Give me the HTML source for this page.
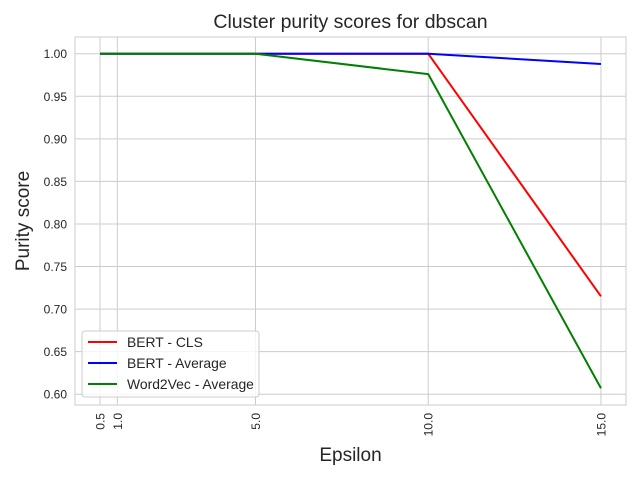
<!DOCTYPE html>
<html><head><meta charset="utf-8"><style>
body{margin:0;background:#fff;}
svg{display:block;font-family:"Liberation Sans","DejaVu Sans",sans-serif;}
</style></head><body>
<svg id="chart" width="640" height="480" viewBox="0 0 640 480" xmlns="http://www.w3.org/2000/svg"></svg>
<script>
const epsilons = [0.5, 1.0, 5.0, 10.0, 15.0];
const xTickLabels = ["0.5", "1.0", "5.0", "10.0", "15.0"];
const yTicks = [0.60, 0.65, 0.70, 0.75, 0.80, 0.85, 0.90, 0.95, 1.00];
const seriesNames = ["BERT - CLS", "BERT - Average", "Word2Vec - Average"];
const bertCls = [1.0, 1.0, 1.0, 1.0, 0.715];
const bertAvg = [1.0, 1.0, 1.0, 1.0, 0.988];
const w2vAvg = [1.0, 1.0, 1.0, 0.976, 0.607];
const colors = ["#ff0000", "#0000ff", "#008000"];

const svg = document.getElementById('chart');
const NS = "http://www.w3.org/2000/svg";
const L = 75, R = 626, T = 37, B = 405;
const allY = bertCls.concat(bertAvg, w2vAvg);
const xMinD = Math.min(...epsilons), xMaxD = Math.max(...epsilons);
const yMinD = Math.min(...allY), yMaxD = Math.max(...allY);
const xm = (xMaxD - xMinD) * 0.05, ym = (yMaxD - yMinD) * 0.05;
const x0 = xMinD - xm, x1 = xMaxD + xm, y0 = yMinD - ym, y1 = yMaxD + ym;
const sx = v => L + (v - x0) / (x1 - x0) * (R - L);
const sy = v => B - (v - y0) / (y1 - y0) * (B - T);
function mk(tag, attrs, text) {
  const e = document.createElementNS(NS, tag);
  for (const k in attrs) e.setAttribute(k, attrs[k]);
  if (text !== undefined) e.textContent = text;
  svg.appendChild(e);
  return e;
}
yTicks.forEach((t, i) => {
  const y = sy(t);
  const g = mk('line', {x1: L, x2: R, y1: y, y2: y, stroke: '#cccccc', 'stroke-width': 1});
  
  
  const lb = mk('text', {x: L - 8, y: y + 4.5, 'text-anchor': 'end', 'font-size': 12, fill: '#262626'}, t.toFixed(2));
  
  
});
epsilons.forEach((v, i) => {
  const x = sx(v);
  const g = mk('line', {x1: x, x2: x, y1: T, y2: B, stroke: '#cccccc', 'stroke-width': 1});
  
  
  const lb = mk('text', {x: x + 4.5, y: B + 8, 'text-anchor': 'end', 'font-size': 12, fill: '#262626', transform: `rotate(-90 ${x + 4.5} ${B + 8})`}, xTickLabels[i]);
  
  
});
const frame = mk('rect', {x: L, y: T, width: R - L, height: B - T, fill: 'none', stroke: '#cccccc', 'stroke-width': 1});


[bertCls, bertAvg, w2vAvg].forEach((s, i) => {
  const pts = s.map((v, j) => sx(epsilons[j]) + ',' + sy(v)).join(' ');
  const p = mk('polyline', {points: pts, fill: 'none', stroke: colors[i], 'stroke-width': 2, 'stroke-linejoin': 'round'});
  
  
});
const tt = mk('text', {x: (L + R) / 2, y: 28, 'text-anchor': 'middle', 'font-size': 19.5, fill: '#262626'}, 'Cluster purity scores for dbscan');


const xl = mk('text', {x: (L + R) / 2, y: 461, 'text-anchor': 'middle', 'font-size': 19, fill: '#262626'}, 'Epsilon');


const yl = mk('text', {x: 29, y: (T + B) / 2, 'text-anchor': 'middle', 'font-size': 19, fill: '#262626', transform: `rotate(-90 29 ${(T + B) / 2})`}, 'Purity score');


const lg = mk('rect', {x: 82, y: 331, width: 177, height: 66, rx: 3, fill: '#ffffff', 'fill-opacity': 0.8, stroke: '#cccccc'});


seriesNames.forEach((n, i) => {
  const y = 342 + i * 21;
  const ln = mk('line', {x1: 88, x2: 117, y1: y, y2: y, stroke: colors[i], 'stroke-width': 2});
  
  
  const tx = mk('text', {x: 127, y: y + 5, 'font-size': 13.9, fill: '#262626'}, n);
  
  
});
</script>
</body></html>
